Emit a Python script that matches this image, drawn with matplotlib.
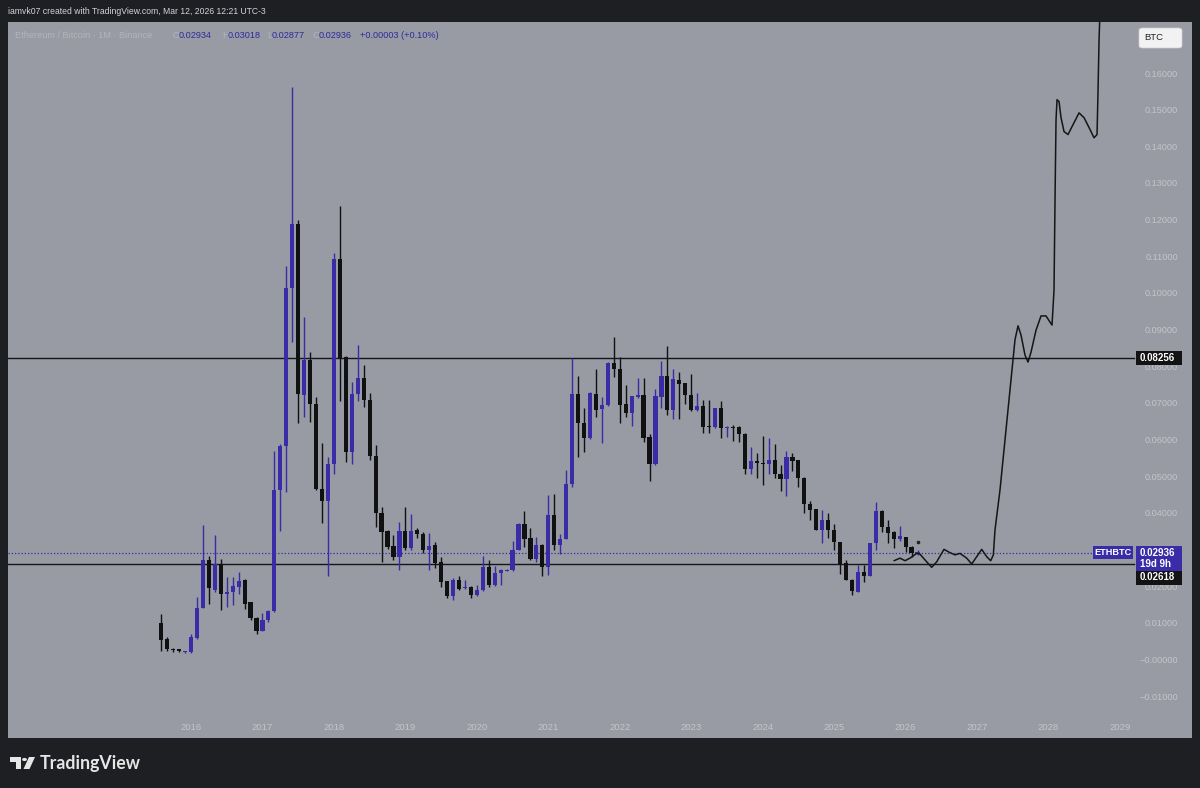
import matplotlib
matplotlib.use("Agg")
import matplotlib.pyplot as plt
from matplotlib.transforms import blended_transform_factory
from matplotlib.patches import Rectangle, FancyBboxPatch, Polygon, Circle

# ---------------- data ----------------
months = [
    "2015-08", "2015-09", "2015-10", "2015-11", "2015-12",
    "2016-01", "2016-02", "2016-03", "2016-04", "2016-05", "2016-06",
    "2016-07", "2016-08", "2016-09", "2016-10", "2016-11", "2016-12",
    "2017-01", "2017-02", "2017-03", "2017-04", "2017-05", "2017-06",
    "2017-07", "2017-08", "2017-09", "2017-10", "2017-11", "2017-12",
    "2018-01", "2018-02", "2018-03", "2018-04", "2018-05", "2018-06",
    "2018-07", "2018-08", "2018-09", "2018-10", "2018-11", "2018-12",
    "2019-01", "2019-02", "2019-03", "2019-04", "2019-05", "2019-06",
    "2019-07", "2019-08", "2019-09", "2019-10", "2019-11", "2019-12",
    "2020-01", "2020-02", "2020-03", "2020-04", "2020-05", "2020-06",
    "2020-07", "2020-08", "2020-09", "2020-10", "2020-11", "2020-12",
    "2021-01", "2021-02", "2021-03", "2021-04", "2021-05", "2021-06",
    "2021-07", "2021-08", "2021-09", "2021-10", "2021-11", "2021-12",
    "2022-01", "2022-02", "2022-03", "2022-04", "2022-05", "2022-06",
    "2022-07", "2022-08", "2022-09", "2022-10", "2022-11", "2022-12",
    "2023-01", "2023-02", "2023-03", "2023-04", "2023-05", "2023-06",
    "2023-07", "2023-08", "2023-09", "2023-10", "2023-11", "2023-12",
    "2024-01", "2024-02", "2024-03", "2024-04", "2024-05", "2024-06",
    "2024-07", "2024-08", "2024-09", "2024-10", "2024-11", "2024-12",
    "2025-01", "2025-02", "2025-03", "2025-04", "2025-05", "2025-06",
    "2025-07", "2025-08", "2025-09", "2025-10", "2025-11", "2025-12",
    "2026-01", "2026-02", "2026-03",
]
opens = [
    0.0102, 0.0058, 0.0030, 0.0028, 0.0022,
    0.0024, 0.0060, 0.0143, 0.0273, 0.0191, 0.0264,
    0.0182, 0.0187, 0.0200, 0.0219, 0.0158, 0.0117,
    0.0080, 0.0109, 0.0134, 0.0466, 0.0585, 0.1016,
    0.1190, 0.0724, 0.0820, 0.0699, 0.0469, 0.0435,
    0.0536, 0.1095, 0.0829, 0.0569, 0.0727, 0.0770,
    0.0710, 0.0557, 0.0401, 0.0352, 0.0311, 0.0281,
    0.0353, 0.0308, 0.0355, 0.0346, 0.0302, 0.0314,
    0.0269, 0.0217, 0.0175, 0.0219, 0.0197, 0.0200,
    0.0178, 0.0191, 0.0255, 0.0205, 0.0239, 0.0245,
    0.0246, 0.0302, 0.0373, 0.0334, 0.0278, 0.0314,
    0.0255, 0.0398, 0.0314, 0.0332, 0.0481, 0.0727,
    0.0648, 0.0608, 0.0727, 0.0685, 0.0697, 0.0812,
    0.0796, 0.0699, 0.0676, 0.0719, 0.0724, 0.0610,
    0.0536, 0.0719, 0.0776, 0.0683, 0.0765, 0.0756,
    0.0724, 0.0683, 0.0694, 0.0640, 0.0637, 0.0688,
    0.0633, 0.0636, 0.0636, 0.0619, 0.0521, 0.0545,
    0.0540, 0.0536, 0.0546, 0.0510, 0.0495, 0.0555,
    0.0546, 0.0499, 0.0426, 0.0412, 0.0357, 0.0384,
    0.0357, 0.0323, 0.0266, 0.0220, 0.0187, 0.0241,
    0.0230, 0.0319, 0.0408, 0.0363, 0.0351, 0.0331,
    0.0337, 0.0310, 0.02934,
]
highs = [
    0.0126, 0.0064, 0.0035, 0.0031, 0.0025,
    0.0071, 0.0172, 0.0369, 0.0284, 0.0342, 0.0278,
    0.0228, 0.0228, 0.0240, 0.0222, 0.0160, 0.0119,
    0.0128, 0.0137, 0.0572, 0.0590, 0.1077, 0.1565,
    0.1202, 0.0938, 0.0842, 0.0719, 0.0594, 0.0554,
    0.1111, 0.1239, 0.0830, 0.0760, 0.0861, 0.0806,
    0.0729, 0.0587, 0.0419, 0.0355, 0.0342, 0.0378,
    0.0419, 0.0399, 0.0362, 0.0351, 0.0348, 0.0323,
    0.0281, 0.0218, 0.0226, 0.0230, 0.0219, 0.0202,
    0.0205, 0.0284, 0.0275, 0.0257, 0.0250, 0.0250,
    0.0325, 0.0375, 0.0407, 0.0360, 0.0337, 0.0318,
    0.0451, 0.0455, 0.0345, 0.0519, 0.0824, 0.0776,
    0.0690, 0.0733, 0.0794, 0.0718, 0.0815, 0.0883,
    0.0829, 0.0751, 0.0722, 0.0770, 0.0770, 0.0619,
    0.0740, 0.0818, 0.0858, 0.0794, 0.0788, 0.0758,
    0.0781, 0.0729, 0.0710, 0.0710, 0.0690, 0.0708,
    0.0640, 0.0642, 0.0640, 0.0621, 0.0581, 0.0565,
    0.0612, 0.0606, 0.0590, 0.0533, 0.0572, 0.0565,
    0.0547, 0.0500, 0.0435, 0.0413, 0.0410, 0.0401,
    0.0372, 0.0324, 0.0273, 0.0221, 0.0260, 0.0260,
    0.0320, 0.0433, 0.0411, 0.0383, 0.0353, 0.0366,
    0.0338, 0.0311, 0.03018,
]
lows = [
    0.0027, 0.0025, 0.0022, 0.0023, 0.0020,
    0.0019, 0.0059, 0.0142, 0.0155, 0.0187, 0.0137,
    0.0146, 0.0150, 0.0180, 0.0139, 0.0109, 0.0073,
    0.0079, 0.0105, 0.0132, 0.0353, 0.0460, 0.0870,
    0.0647, 0.0665, 0.0651, 0.0466, 0.0375, 0.0230,
    0.0510, 0.0709, 0.0542, 0.0537, 0.0709, 0.0692,
    0.0546, 0.0364, 0.0269, 0.0303, 0.0273, 0.0246,
    0.0301, 0.0300, 0.0335, 0.0292, 0.0246, 0.0251,
    0.0200, 0.0169, 0.0164, 0.0191, 0.0195, 0.0169,
    0.0176, 0.0190, 0.0199, 0.0203, 0.0205, 0.0243,
    0.0245, 0.0300, 0.0310, 0.0275, 0.0269, 0.0230,
    0.0232, 0.0301, 0.0290, 0.0330, 0.0474, 0.0554,
    0.0569, 0.0605, 0.0665, 0.0594, 0.0695, 0.0774,
    0.0647, 0.0665, 0.0639, 0.0717, 0.0597, 0.0490,
    0.0534, 0.0690, 0.0669, 0.0658, 0.0660, 0.0701,
    0.0680, 0.0681, 0.0621, 0.0621, 0.0635, 0.0608,
    0.0610, 0.0600, 0.0597, 0.0510, 0.0510, 0.0499,
    0.0478, 0.0510, 0.0499, 0.0463, 0.0448, 0.0517,
    0.0474, 0.0401, 0.0384, 0.0355, 0.0319, 0.0335,
    0.0302, 0.0237, 0.0219, 0.0178, 0.0186, 0.0214,
    0.0229, 0.0301, 0.0351, 0.0321, 0.0308, 0.0326,
    0.0296, 0.0282, 0.02877,
]
closes = [
    0.0057, 0.0030, 0.0028, 0.0027, 0.0024,
    0.0064, 0.0144, 0.0273, 0.0197, 0.0264, 0.0182,
    0.0188, 0.0202, 0.0217, 0.0155, 0.0115, 0.0080,
    0.0109, 0.0135, 0.0466, 0.0585, 0.1016, 0.1190,
    0.0726, 0.0820, 0.0699, 0.0469, 0.0435, 0.0536,
    0.1095, 0.0824, 0.0569, 0.0727, 0.0770, 0.0710,
    0.0557, 0.0401, 0.0351, 0.0310, 0.0281, 0.0353,
    0.0308, 0.0353, 0.0344, 0.0302, 0.0312, 0.0266,
    0.0214, 0.0175, 0.0220, 0.0196, 0.0200, 0.0178,
    0.0191, 0.0255, 0.0205, 0.0239, 0.0246, 0.0248,
    0.0302, 0.0373, 0.0332, 0.0278, 0.0314, 0.0255,
    0.0398, 0.0314, 0.0332, 0.0481, 0.0727, 0.0647,
    0.0608, 0.0730, 0.0683, 0.0697, 0.0812, 0.0794,
    0.0697, 0.0676, 0.0721, 0.0724, 0.0608, 0.0536,
    0.0721, 0.0776, 0.0683, 0.0767, 0.0754, 0.0724,
    0.0683, 0.0694, 0.0637, 0.0637, 0.0688, 0.0633,
    0.0636, 0.0634, 0.0619, 0.0521, 0.0545, 0.0540,
    0.0535, 0.0546, 0.0508, 0.0495, 0.0555, 0.0545,
    0.0499, 0.0426, 0.0410, 0.0357, 0.0384, 0.0355,
    0.0323, 0.0262, 0.0220, 0.0189, 0.0241, 0.0230,
    0.0319, 0.0408, 0.0364, 0.0348, 0.0331, 0.0339,
    0.0310, 0.0293, 0.02936,
]

# hand-drawn projection path (decimal year, price)
proj_t = [2025.838, 2025.922, 2025.992, 2026.061, 2026.155, 2026.201, 2026.295,
          2026.365, 2026.435, 2026.537, 2026.621, 2026.691, 2026.761, 2026.855,
          2026.925, 2026.995, 2027.065, 2027.135, 2027.191, 2027.228, 2027.251,
          2027.321, 2027.405, 2027.489, 2027.531, 2027.573, 2027.615, 2027.671,
          2027.713, 2027.755, 2027.825, 2027.895, 2027.965, 2028.021, 2028.049,
          2028.077, 2028.091, 2028.105, 2028.119, 2028.147, 2028.175, 2028.217,
          2028.273, 2028.343, 2028.427, 2028.497, 2028.567, 2028.637, 2028.679,
          2028.693, 2028.707, 2028.721]
proj_v = [0.0272, 0.0279, 0.0272, 0.0279, 0.0292, 0.0290, 0.0269,
          0.0254, 0.0269, 0.0303, 0.0294, 0.0288, 0.0292, 0.0279,
          0.0263, 0.0283, 0.0303, 0.0283, 0.0272, 0.0288, 0.0356,
          0.0465, 0.0629, 0.0793, 0.0875, 0.0913, 0.0888, 0.0833,
          0.0814, 0.0841, 0.0901, 0.0940, 0.0940, 0.0923, 0.0915,
          0.1011, 0.1257, 0.1475, 0.1530, 0.1525, 0.1481, 0.1443,
          0.1435, 0.1462, 0.1494, 0.1481, 0.1454, 0.1426, 0.1435,
          0.1557, 0.1693, 0.1776]

levels = [0.08256, 0.02618]
level_labels = ["0.08256", "0.02618"]
last_price = 0.02936
# 0.03000 is hidden behind the last-price label in the reference
price_ticks = [0.16, 0.15, 0.14, 0.13, 0.12, 0.11, 0.10, 0.09, 0.08,
               0.07, 0.06, 0.05, 0.04, 0.02, 0.01, 0.0, -0.01]
price_tick_labels = ["0.16000", "0.15000", "0.14000", "0.13000", "0.12000",
                     "0.11000", "0.10000", "0.09000", "0.08000", "0.07000",
                     "0.06000", "0.05000", "0.04000", "0.02000",
                     "0.01000", "\u22120.00000", "\u22120.01000"]
years = [2016, 2017, 2018, 2019, 2020, 2021, 2022, 2023, 2024, 2025,
         2026, 2027, 2028, 2029]

# ---------------- styling ----------------
W, H = 1200, 788
BG_DARK = "#1e1f22"
PANEL = "#989ba3"
PURPLE = "#3a2ba6"
BLACK = "#111111"
AXTXT = "#c3c5cb"
FONT = "Liberation Sans"

fig = plt.figure(figsize=(W / 100, H / 100), dpi=100)
fig.patch.set_facecolor(BG_DARK)

L, R, T, B = 8, 1192, 22, 738
ax = fig.add_axes([L / W, 1 - B / H, (R - L) / W, (B - T) / H])
ax.set_facecolor(PANEL)
for s in ax.spines.values():
    s.set_visible(False)
ax.set_xticks([])
ax.set_yticks([])

PX_PER_YEAR = 71.46
X2016 = 191.0
PX_PER_UNIT = 3664.7
Y0 = 660.4
xlo = 2016 + (L - X2016) / PX_PER_YEAR
xhi = 2016 + (R - X2016) / PX_PER_YEAR
yhi = (Y0 - T) / PX_PER_UNIT
ylo = (Y0 - B) / PX_PER_UNIT
ax.set_xlim(xlo, xhi)
ax.set_ylim(ylo, yhi)


def ax_xfrac(px):
    return (px - L) / (R - L)


def fx(px):
    return px / W


def fy(py):
    return 1 - py / H


def val_px(v):
    return T + (yhi - v) / (yhi - ylo) * (B - T)


bt = blended_transform_factory(ax.transAxes, ax.transData)
bt_xdata = blended_transform_factory(ax.transData, ax.transAxes)

# ---------------- candles ----------------
t = [int(m[:4]) + (int(m[5:]) - 1) / 12 for m in months]
cols, bottoms, heights = [], [], []
for o, c in zip(opens, closes):
    bull = c >= o
    cols.append(PURPLE if bull else BLACK)
    bottoms.append(min(o, c))
    heights.append(max(abs(c - o), 0.00030))
ax.vlines(t, lows, highs, colors=cols, linewidth=1.0, zorder=3)
ax.bar(t, heights, bottom=bottoms, width=0.70 / 12, color=cols,
       linewidth=0, zorder=4)

# horizontal levels
for lv in levels:
    ax.axhline(lv, xmin=0, xmax=ax_xfrac(1134), color="#161616",
               linewidth=1.0, zorder=2)
ax.axhline(last_price, xmin=0, xmax=ax_xfrac(1092), color=PURPLE,
           linewidth=0.9, linestyle=(0, (1, 1.6)), zorder=2)

# projection
ax.plot(proj_t, proj_v, color="#151515", linewidth=1.1, zorder=5,
        solid_joinstyle="round", solid_capstyle="round")
ax.plot([2026.175], [0.0322], marker="o", markersize=1.6, color="#222222",
        zorder=5)

# ---------------- axis texts ----------------
for v, lab in zip(price_ticks, price_tick_labels):
    ax.text(ax_xfrac(1178), v, lab, transform=bt, ha="right", va="center",
            fontsize=6.6, color=AXTXT, family=FONT, zorder=6)
for y in years:
    ax.text(y, (B - 728) / (B - T), str(y), transform=bt_xdata,
            ha="center", va="center", fontsize=6.8, color=AXTXT,
            family=FONT, zorder=6)


def box(x1, y1, x2, y2, fc, z=8):
    fig.add_artist(Rectangle((fx(x1), fy(y2)), (x2 - x1) / W, (y2 - y1) / H,
                             transform=fig.transFigure, facecolor=fc,
                             edgecolor="none", zorder=z))


# level labels
for lv, lab in zip(levels, level_labels):
    py = val_px(lv)
    if lab == "0.02618":
        py = 577.5
    box(1136, py - 7, 1182, py + 7, "#131313")
    fig.text(fx(1140), fy(py), lab, ha="left", va="center", fontsize=7,
             color="white", family=FONT, weight="bold", zorder=9)

# current price labels
pyc = val_px(last_price)
box(1093, pyc - 6.5, 1133, pyc + 6.5, PURPLE)
fig.text(fx(1113), fy(pyc), "ETHBTC", ha="center", va="center", fontsize=6.6,
         color="white", family=FONT, weight="bold", zorder=9)
box(1136, pyc - 6.5, 1182, pyc + 18, PURPLE)
fig.text(fx(1140), fy(pyc), "0.02936", ha="left", va="center", fontsize=7,
         color="white", family=FONT, weight="bold", zorder=9)
fig.text(fx(1140), fy(pyc + 11.5), "19d 9h", ha="left", va="center",
         fontsize=7, color="white", family=FONT, weight="bold", zorder=9)

# BTC currency box
fig.add_artist(FancyBboxPatch((fx(1139), fy(48)), 43 / W, 20 / H,
                              boxstyle="round,pad=0,rounding_size=0.003",
                              transform=fig.transFigure, facecolor="#f2f2f2",
                              edgecolor="#d0d0d0", linewidth=0.5, zorder=8))
fig.text(fx(1154), fy(38), "BTC", ha="center", va="center", fontsize=6.8,
         color="#222222", family=FONT, zorder=9)

# ---------------- header / legend ----------------
fig.text(fx(8), fy(11), "iamvk07 created with TradingView.com, Mar 12, 2026 12:21 UTC-3",
         ha="left", va="center", fontsize=6.2, color="#d1d4dc", family=FONT)

LEG_Y = 35
LIGHT = "#b3b5bc"
VAL = "#2e2a9c"
legend_parts = [
    (15, "Ethereum / Bitcoin \u00b7 1M \u00b7 Binance", LIGHT),
    (173, "O", LIGHT), (179, "0.02934", VAL),
    (222, "H", LIGHT), (228, "0.03018", VAL),
    (267, "L", LIGHT), (272, "0.02877", VAL),
    (313, "C", LIGHT), (319, "0.02936", VAL),
    (360, "+0.00003 (+0.10%)", VAL),
]
for px, txt, c in legend_parts:
    fig.text(fx(px), fy(LEG_Y), txt, ha="left", va="center", fontsize=6.6,
             color=c, family=FONT)

# ---------------- footer logo ----------------
logo_c = "#e6e6e6"
fig.add_artist(Polygon([(fx(10), fy(757)), (fx(21), fy(757)), (fx(21), fy(769)),
                        (fx(15.5), fy(769)), (fx(15.5), fy(761.5)), (fx(10), fy(761.5))],
                       closed=True, transform=fig.transFigure, facecolor=logo_c,
                       edgecolor="none"))
fig.add_artist(Circle((fx(24.5), fy(759.5)), 2.4 / W, transform=fig.transFigure,
                      facecolor=logo_c, edgecolor="none"))
fig.add_artist(Polygon([(fx(29), fy(757)), (fx(35), fy(757)), (fx(29.5), fy(769)),
                        (fx(23.5), fy(769))],
                       closed=True, transform=fig.transFigure, facecolor=logo_c,
                       edgecolor="none"))
fig.text(fx(40), fy(763), "TradingView", ha="left", va="center", fontsize=12.8,
         color=logo_c, family="Lato", weight="bold")

fig.savefig("out.png", dpi=100, facecolor=fig.get_facecolor())
